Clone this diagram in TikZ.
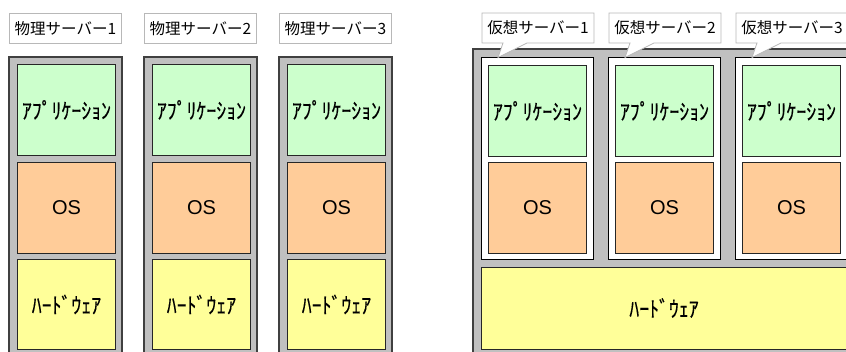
\documentclass[tikz,border=0pt]{standalone}
\usepackage{fontspec}
\setmainfont{Liberation Sans}
\newfontfamily\jp{Noto Sans CJK JP}
\newfontfamily\jpk[FakeBold=0.3,FakeStretch=0.9]{Noto Sans CJK JP}
\definecolor{srvgray}{HTML}{C0C0C0}
\definecolor{appgreen}{HTML}{CCFFCC}
\definecolor{osorange}{HTML}{FFCC99}
\definecolor{hwyellow}{HTML}{FFFF99}
\definecolor{lblborder}{HTML}{B8B8B8}
\definecolor{frameedge}{HTML}{404040}
\tikzset{
  frame/.style={fill=srvgray, draw=frameedge, line width=1.3pt},
  vmbox/.style={fill=white, draw=black, line width=1pt, anchor=north west, inner sep=0pt},
  layer/.style={draw=black!85, line width=0.9pt, anchor=north west, inner sep=0pt,
     minimum width=98pt, minimum height=91pt},
  app/.style={layer, fill=appgreen, font=\jpk\fontsize{22}{22}\selectfont},
  os/.style={layer, fill=osorange, font=\fontsize{20}{20}\selectfont},
  hw/.style={layer, fill=hwyellow, font=\jpk\fontsize{22}{22}\selectfont},
  lbl/.style={fill=white, draw=lblborder, line width=0.8pt, anchor=north west, inner sep=0pt,
     minimum width=112pt, minimum height=30pt, font=\jp\fontsize{15.5}{15.5}\selectfont},
  lbltext/.style={font=\jp\fontsize{15.5}{15.5}\selectfont, inner sep=0pt}
}
\begin{document}
\begin{tikzpicture}[x=1pt,y=-1pt]
\useasboundingbox (0,0) rectangle (846,351);
\clip (0,0) rectangle (846,351);
% physical servers
\foreach \i/\dx in {1/0,2/135,3/270}{
  \node[lbl] (plbl\i) at (9+\dx,13) {物理サーバー\i};
  \draw[frame] (9+\dx,57) rectangle (122+\dx,360);
  \node[app] (papp\i) at (17+\dx,64) {ｱﾌﾟﾘｹｰｼｮﾝ};
  \node[os] (pos\i) at (17+\dx,162) {OS};
  \node[hw, minimum height=90pt] (phw\i) at (17+\dx,259) {ﾊｰﾄﾞｳｪｱ};
}
% virtual host
\draw[frame] (473,49) rectangle (870,360);
\foreach \i/\dx in {1/0,2/127,3/254}{
  \node[vmbox, minimum width=112pt, minimum height=202pt] (vm\i) at (481+\dx,57) {};
  \node[app] (vapp\i) at (488+\dx,65) {ｱﾌﾟﾘｹｰｼｮﾝ};
  \node[os] (vos\i) at (488+\dx,162) {OS};
  \coordinate (tip\i) at (498+\dx,57.5);
  \filldraw[fill=white, draw=lblborder, line width=0.8pt]
    (482+\dx,13) -- (594+\dx,13) -- (594+\dx,43) -- (527+\dx,43) -- (tip\i)
    -- (503+\dx,43) -- (482+\dx,43) -- cycle;
  \node[lbltext] (vlbl\i) at (538+\dx,28) {仮想サーバー\i};
}
\node[hw, minimum width=400pt, minimum height=82pt] (vhw) at (481,267) {};
\node[font=\jpk\fontsize{22}{22}\selectfont, inner sep=0pt] (vhwtext) at (664,308) {ﾊｰﾄﾞｳｪｱ};
\end{tikzpicture}
\end{document}
